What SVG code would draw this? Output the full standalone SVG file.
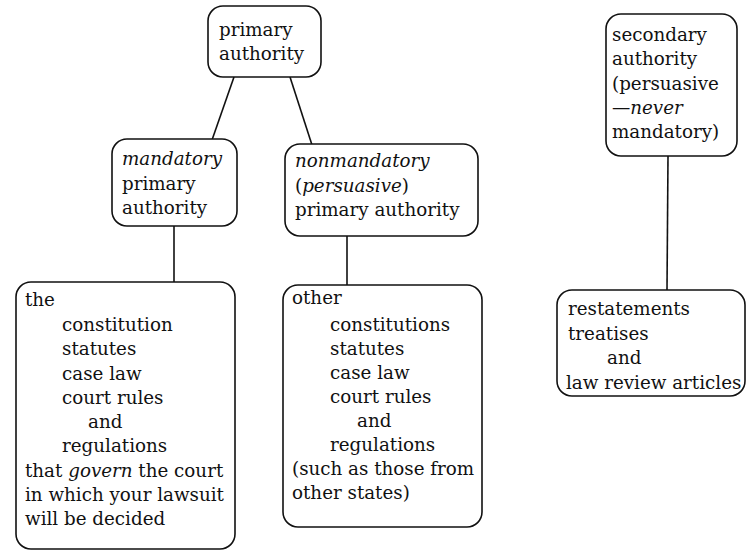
<svg xmlns="http://www.w3.org/2000/svg" width="746" height="554" viewBox="0 0 746 554">
<style>
.box{fill:#fff;stroke:#111;stroke-width:1.6}
.ln{fill:none;stroke:#111;stroke-width:1.6}
text{font-family:"DejaVu Serif","Liberation Serif",serif;font-size:18.3px;fill:#111}
.i{font-style:italic}
</style>
<rect width="746" height="554" fill="#fff"/>
<g id="connectors">
<line class="ln" x1="234" y1="77" x2="212" y2="140"/>
<line class="ln" x1="290" y1="77" x2="312" y2="145"/>
<line class="ln" x1="174" y1="225" x2="174" y2="283"/>
<line class="ln" x1="347" y1="236" x2="347" y2="285"/>
<line class="ln" x1="668" y1="156" x2="667" y2="290"/>
</g>
<g id="primary">
<rect class="box" x="208" y="6" width="113" height="71" rx="15"/>
<text x="219" y="36">primary</text>
<text x="219" y="60">authority</text>
</g>
<g id="mandatory">
<rect class="box" x="112" y="139" width="125" height="87" rx="15"/>
<text x="122" y="165" class="i">mandatory</text>
<text x="122" y="190">primary</text>
<text x="122" y="214">authority</text>
</g>
<g id="nonmandatory">
<rect class="box" x="285" y="144" width="193" height="92" rx="15"/>
<text x="295" y="167" class="i">nonmandatory</text>
<text x="295" y="192">(<tspan class="i">persuasive</tspan>)</text>
<text x="295" y="216">primary authority</text>
</g>
<g id="secondary">
<rect class="box" x="606" y="14" width="131" height="142" rx="15"/>
<text x="612" y="41">secondary</text>
<text x="612" y="65">authority</text>
<text x="612" y="90">(persuasive</text>
<text x="612" y="114">—<tspan class="i">never</tspan></text>
<text x="612" y="138">mandatory)</text>
</g>
<g id="mandatory-list">
<rect class="box" x="16" y="282" width="219" height="267" rx="15"/>
<text x="25" y="306">the</text>
<text x="62" y="331">constitution</text>
<text x="62" y="355">statutes</text>
<text x="62" y="380">case law</text>
<text x="62" y="404">court rules</text>
<text x="88" y="428">and</text>
<text x="62" y="452">regulations</text>
<text x="25" y="477">that <tspan class="i">govern</tspan> the court</text>
<text x="25" y="501">in which your lawsuit</text>
<text x="25" y="525">will be decided</text>
</g>
<g id="nonmandatory-list">
<rect class="box" x="283" y="285" width="199" height="242" rx="15"/>
<text x="292" y="304">other</text>
<text x="330" y="331">constitutions</text>
<text x="330" y="355">statutes</text>
<text x="330" y="379">case law</text>
<text x="330" y="403">court rules</text>
<text x="357" y="427">and</text>
<text x="330" y="451">regulations</text>
<text x="292" y="475">(such as those from</text>
<text x="292" y="499">other states)</text>
</g>
<g id="secondary-list">
<rect class="box" x="557" y="290" width="188" height="106" rx="15"/>
<text x="568" y="315">restatements</text>
<text x="568" y="340">treatises</text>
<text x="607" y="364">and</text>
<text x="566" y="389">law review articles</text>
</g>
</svg>
